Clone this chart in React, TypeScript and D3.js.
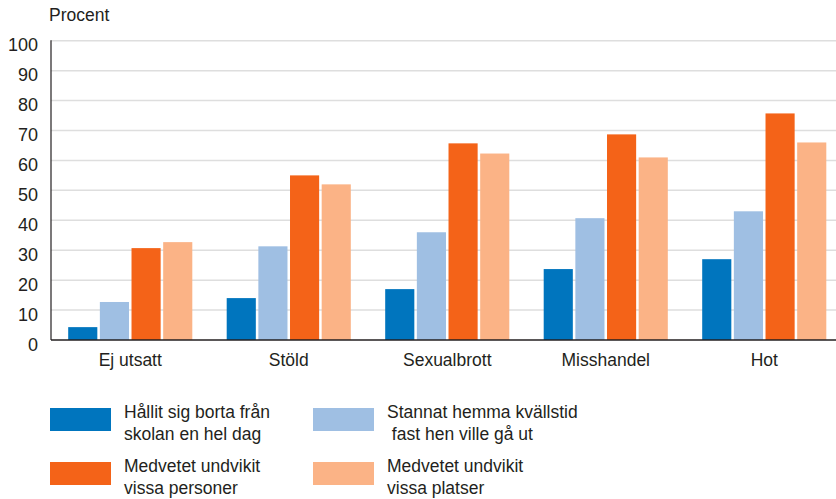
import { useEffect, useRef } from "react";
import * as d3 from "d3";

const categories = ["Ej utsatt", "Stöld", "Sexualbrott", "Misshandel", "Hot"];
const seriesNames = [
  ["Hållit sig borta från", "skolan en hel dag"],
  ["Stannat hemma kvällstid", " fast hen ville gå ut"],
  ["Medvetet undvikit", "vissa personer"],
  ["Medvetet undvikit", "vissa platser"],
];
const hallitBorta = [4.3, 14, 17, 23.7, 27];
const stannatHemma = [12.7, 31.3, 36, 40.7, 43];
const undvikitPersoner = [30.7, 55, 65.7, 68.7, 75.7];
const undvikitPlatser = [32.7, 52, 62.3, 61, 66];
const yTicks = [0, 10, 20, 30, 40, 50, 60, 70, 80, 90, 100];
const colors = ["#0075be", "#9fbfe3", "#f46318", "#fbb386"];

const FONT = "'Liberation Sans', Arial, Helvetica, sans-serif";
const TEXT = "#231f20";

function App() {
  const chartRef = useRef<HTMLDivElement>(null);

  useEffect(() => {
    d3.select(chartRef.current).selectAll("*").remove();

    const width = 836;
    const height = 499;
    const margin = { left: 51, right: -7.5, top: 40.7, bottom: 159 };
    const series = [hallitBorta, stannatHemma, undvikitPersoner, undvikitPlatser];

    const svg = d3
      .select(chartRef.current)
      .append("svg")
      .attr("width", width)
      .attr("height", height)
      .style("position", "absolute")
      .style("left", "0px")
      .style("top", "0px")
      .style("font-family", FONT);

    const x0 = d3
      .scaleBand()
      .domain(categories)
      .range([margin.left, width - margin.right])
      .paddingInner(0.217)
      .paddingOuter(0.1085);

    const x1 = d3
      .scaleBand()
      .domain(d3.range(series.length).map(String))
      .range([0, x0.bandwidth()])
      .paddingInner(0.08);

    const y = d3
      .scaleLinear()
      .domain([0, 100])
      .range([height - margin.bottom, margin.top]);

    // gridlines
    svg
      .append("g")
      .selectAll("line")
      .data(yTicks.filter((d) => d > 0))
      .enter()
      .append("line")
      .attr("x1", margin.left)
      .attr("x2", width)
      .attr("y1", (d) => y(d))
      .attr("y2", (d) => y(d))
      .attr("stroke", "#dedede")
      .attr("stroke-width", 1.5);

    // bars
    categories.forEach((cat, ci) => {
      svg
        .append("g")
        .attr("transform", `translate(${x0(cat)},0)`)
        .selectAll("rect")
        .data(series.map((s, si) => ({ si, v: s[ci] })))
        .enter()
        .append("rect")
        .attr("x", (d) => x1(String(d.si)) as number)
        .attr("y", (d) => y(d.v))
        .attr("width", x1.bandwidth())
        .attr("height", (d) => y(0) - y(d.v))
        .attr("fill", (d) => colors[d.si]);
    });

    // axes lines
    svg
      .append("line")
      .attr("x1", margin.left)
      .attr("x2", width)
      .attr("y1", y(0))
      .attr("y2", y(0))
      .attr("stroke", TEXT)
      .attr("stroke-width", 1.5);
    svg
      .append("line")
      .attr("x1", margin.left)
      .attr("x2", margin.left)
      .attr("y1", y(100) - 0.5)
      .attr("y2", y(0))
      .attr("stroke", TEXT)
      .attr("stroke-width", 1.2);

    // y tick labels
    svg
      .append("g")
      .selectAll("text")
      .data(yTicks)
      .enter()
      .append("text")
      .attr("x", 38)
      .attr("y", (d) => y(d) + 10.5)
      .attr("text-anchor", "end")
      .attr("font-size", 18)
      .attr("fill", TEXT)
      .text((d) => d);

    svg
      .append("text")
      .attr("x", 49)
      .attr("y", 21)
      .attr("font-size", 17.5)
      .attr("fill", TEXT)
      .text("Procent");

    // category labels
    svg
      .append("g")
      .selectAll("text")
      .data(categories)
      .enter()
      .append("text")
      .attr("x", (d) => (x0(d) as number) + x0.bandwidth() / 2)
      .attr("y", 366)
      .attr("text-anchor", "middle")
      .attr("font-size", 17.5)
      .attr("fill", TEXT)
      .text((d) => d);

    // legend
    const legendPos = [
      { x: 50, y: 408 },
      { x: 313, y: 408 },
      { x: 50, y: 462 },
      { x: 313, y: 462 },
    ];
    const legend = svg
      .append("g")
      .selectAll("g")
      .data(seriesNames)
      .enter()
      .append("g")
      .attr("transform", (_d, i) => `translate(${legendPos[i].x},${legendPos[i].y})`);

    legend
      .append("rect")
      .attr("width", 61)
      .attr("height", 23)
      .attr("fill", (_d, i) => colors[i]);

    legend
      .append("text")
      .attr("x", 74)
      .attr("y", 10)
      .attr("font-size", 17.5)
      .attr("fill", TEXT)
      .style("white-space", "pre")
      .selectAll("tspan")
      .data((d) => d)
      .enter()
      .append("tspan")
      .attr("x", 74)
      .attr("dy", (_d, i) => (i === 0 ? 0 : 22))
      .text((d) => d);
  }, []);

  return <div ref={chartRef} />;
}

export default App;
